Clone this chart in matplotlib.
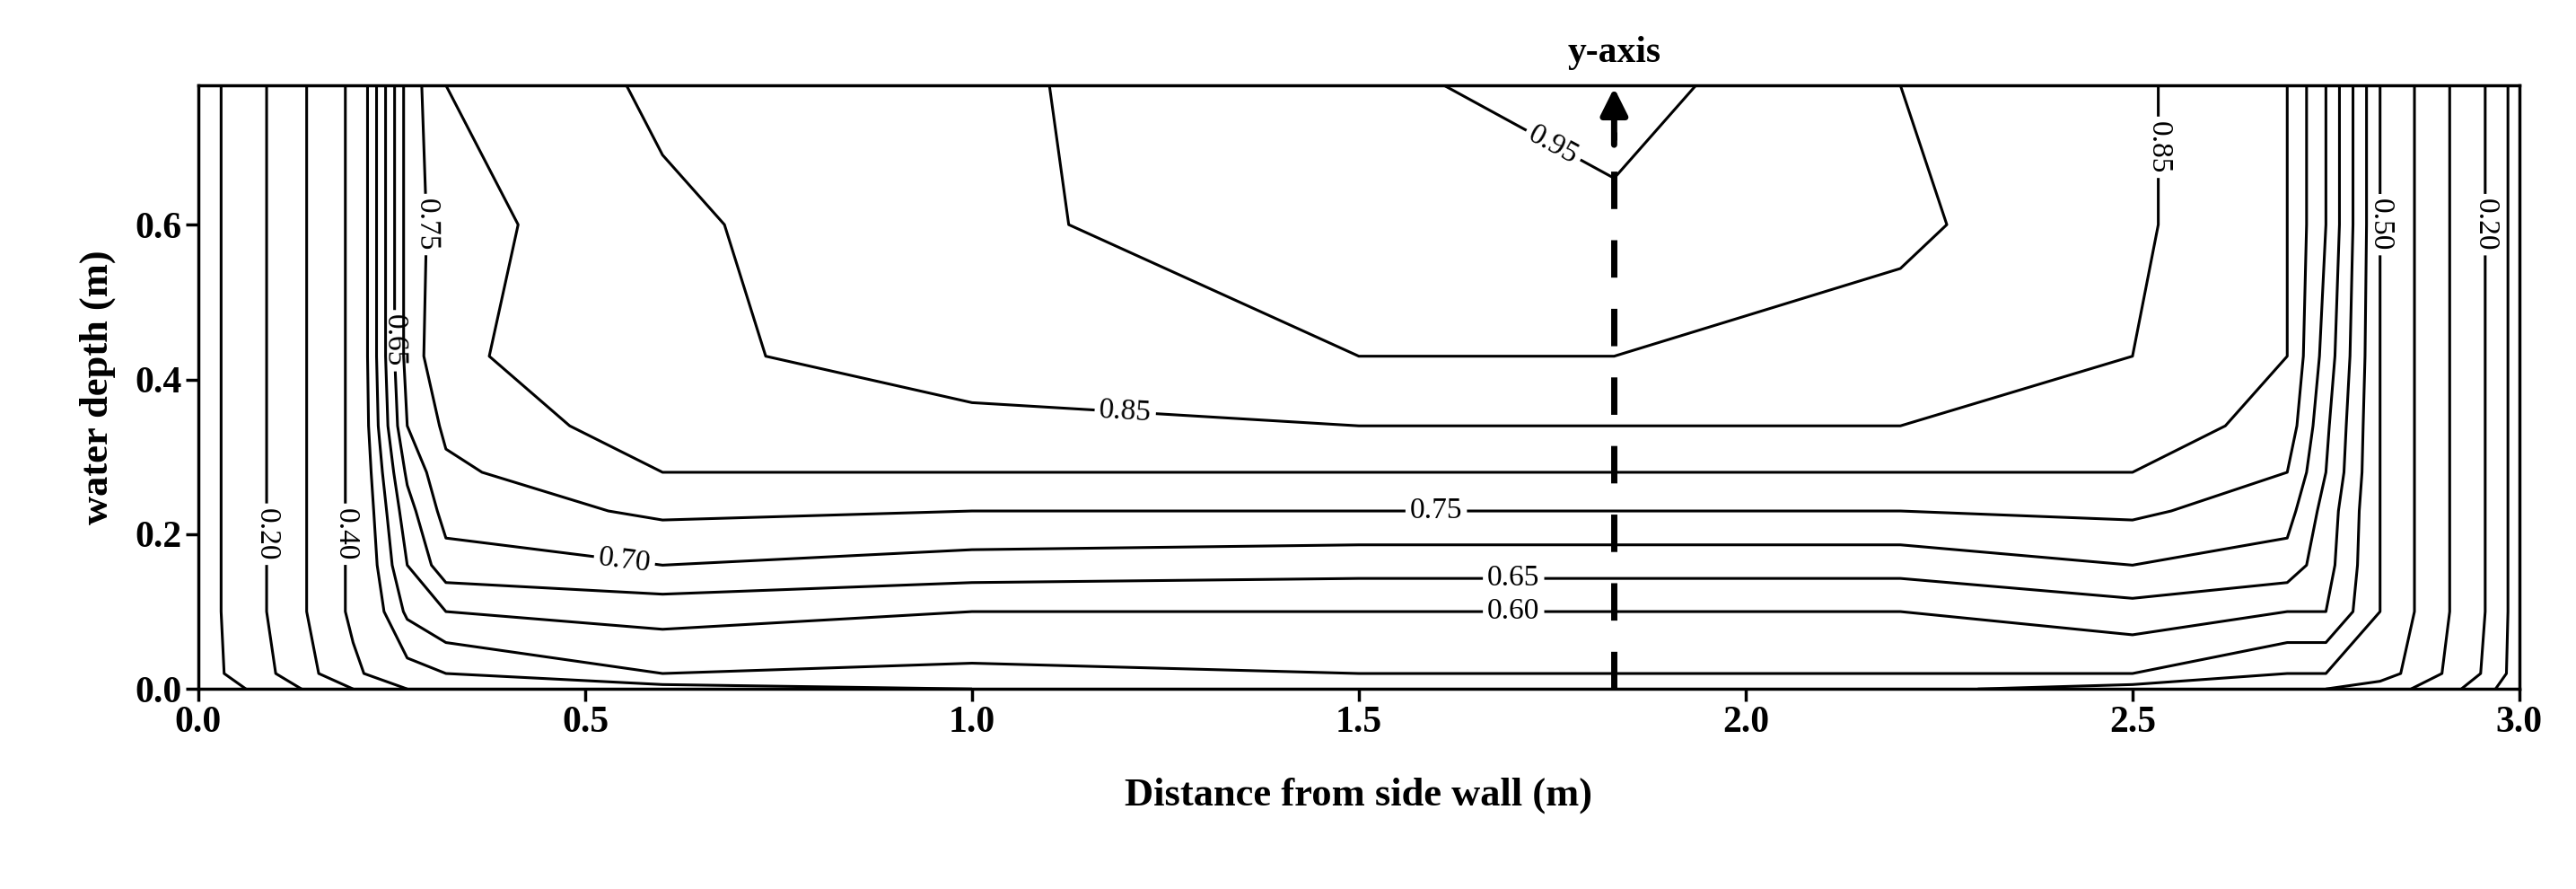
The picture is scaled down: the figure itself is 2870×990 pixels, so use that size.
import numpy as np
import matplotlib.pyplot as plt

plt.rcParams['font.family'] = ['Liberation Serif', 'DejaVu Serif']

# grid
x = [0.0, 0.1, 0.2, 0.27, 0.32, 0.6, 1.0, 1.5, 1.83, 2.2, 2.5, 2.7, 2.75, 2.82, 2.9, 2.95, 3.0]
y = [0.0, 0.02, 0.1, 0.16, 0.23, 0.28, 0.34, 0.43, 0.6, 0.78]
cols = [
    [0.02, 0.05, 0.05, 0.05, 0.05, 0.05, 0.05, 0.05, 0.05, 0.05],
    [0.15, 0.2, 0.22, 0.22, 0.22, 0.22, 0.22, 0.22, 0.22, 0.22],
    [0.3, 0.38, 0.42, 0.42, 0.42, 0.42, 0.42, 0.42, 0.42, 0.42],
    [0.4, 0.48, 0.56, 0.6, 0.63, 0.66, 0.7, 0.72, 0.72, 0.72],
    [0.45, 0.5, 0.6, 0.68, 0.72, 0.74, 0.76, 0.79, 0.78, 0.8],
    [0.48, 0.55, 0.62, 0.7, 0.76, 0.8, 0.83, 0.84, 0.84, 0.86],
    [0.5, 0.54, 0.6, 0.68, 0.75, 0.8, 0.84, 0.87, 0.89, 0.89],
    [0.52, 0.55, 0.6, 0.67, 0.75, 0.8, 0.85, 0.9, 0.93, 0.94],
    [0.52, 0.55, 0.6, 0.67, 0.75, 0.8, 0.85, 0.9, 0.94, 0.97],
    [0.51, 0.55, 0.6, 0.67, 0.75, 0.8, 0.85, 0.88, 0.91, 0.9],
    [0.48, 0.55, 0.63, 0.7, 0.76, 0.8, 0.83, 0.85, 0.86, 0.86],
    [0.45, 0.5, 0.6, 0.68, 0.72, 0.75, 0.78, 0.8, 0.8, 0.8],
    [0.4, 0.5, 0.6, 0.62, 0.63, 0.65, 0.66, 0.68, 0.7, 0.7],
    [0.35, 0.45, 0.5, 0.5, 0.5, 0.5, 0.5, 0.5, 0.5, 0.5],
    [0.25, 0.3, 0.32, 0.32, 0.32, 0.32, 0.32, 0.32, 0.32, 0.32],
    [0.15, 0.2, 0.22, 0.22, 0.22, 0.22, 0.22, 0.22, 0.22, 0.22],
    [0.02, 0.05, 0.05, 0.05, 0.05, 0.05, 0.05, 0.05, 0.05, 0.05],
]
levels = [0.1, 0.2, 0.3, 0.4, 0.5, 0.55, 0.6, 0.65, 0.7, 0.75, 0.8, 0.85, 0.9, 0.95]
label_pos = [(0.1, 0.2), (0.2, 0.2), (0.55, 0.16), (0.25, 0.45), (0.29, 0.6),
             (1.6, 0.23), (1.7, 0.16), (1.7, 0.1), (1.2, 0.39), (2.45, 0.7),
             (1.75, 0.7), (2.82, 0.6), (2.95, 0.6)]

Z = np.array(cols).T

fig = plt.figure(figsize=(28.7, 9.9), dpi=100)
ax = fig.add_axes([0.077, 0.225, 0.901, 0.679])
cs = ax.contour(x, y, Z, levels=levels, colors='black', linewidths=2.2)
ax.clabel(cs, fmt='%.2f', fontsize=24, inline=True, manual=label_pos)

# y-axis marker
ax.plot([1.83, 1.83], [0.0, 0.72], color='black', lw=5, dashes=(6, 5))
ax.annotate('', xy=(1.83, 0.78), xytext=(1.83, 0.70),
            arrowprops=dict(arrowstyle='-|>', color='black', lw=5, mutation_scale=45))
ax.text(1.83, 0.8, 'y-axis', ha='center', va='bottom', fontsize=30, fontweight='bold')

ax.set_xlim(0, 3)
ax.set_ylim(0, 0.78)
ax.set_xticks([0, 0.5, 1, 1.5, 2, 2.5, 3])
ax.set_yticks([0, 0.2, 0.4, 0.6])
ax.xaxis.set_major_formatter(plt.FormatStrFormatter('%.1f'))
ax.yaxis.set_major_formatter(plt.FormatStrFormatter('%.1f'))
ax.tick_params(labelsize=30, width=2.5, length=10)
for lab in ax.get_xticklabels() + ax.get_yticklabels():
    lab.set_fontweight('bold')
for s in ax.spines.values():
    s.set_linewidth(2.5)
ax.set_xlabel('Distance from side wall (m)', fontsize=32, fontweight='bold', labelpad=30)
ax.set_ylabel('water depth (m)', fontsize=32, fontweight='bold', labelpad=15)

fig.savefig('out.png')
